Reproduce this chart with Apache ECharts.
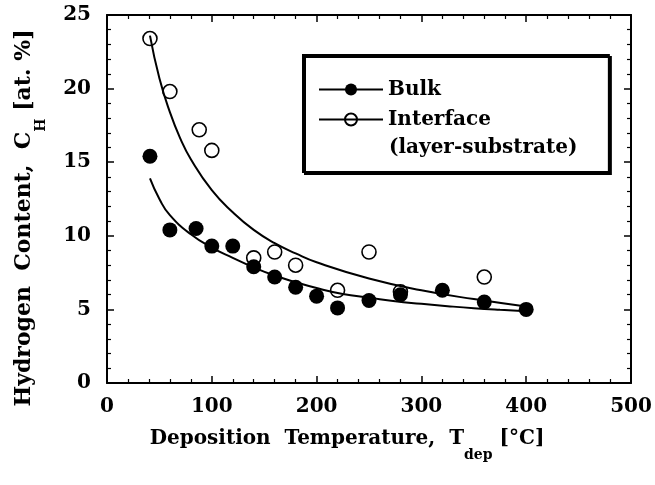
<!DOCTYPE html>
<html>
<head>
<meta charset="utf-8">
<script src="https://cdn.jsdelivr.net/npm/echarts@6/dist/echarts.min.js"></script>
<style>html,body{margin:0;padding:0;background:#fff}#c{width:655px;height:485px}</style>
</head>
<body>
<div id="c"></div>
<script>
// Measured points
const tempBulk = [41, 60, 85, 100, 120, 140, 160, 180, 200, 220, 250, 280, 320, 360, 400];
const hBulk    = [15.4, 10.4, 10.5, 9.3, 9.3, 7.9, 7.2, 6.5, 5.9, 5.1, 5.6, 6.0, 6.3, 5.5, 5.0];
const tempIface = [41, 60, 88, 100, 140, 160, 180, 220, 250, 280, 360];
const hIface    = [23.4, 19.8, 17.2, 15.8, 8.5, 8.9, 8.0, 6.3, 8.9, 6.2, 7.2];
// Fitted curves
const bulkFitT = [41, 50, 60, 80, 100, 120, 140, 160, 180, 200, 225, 250, 275, 300, 325, 350, 375, 400];
const bulkFitH = [13.9, 12.5, 11.4, 10.1, 9.2, 8.5, 7.85, 7.3, 6.85, 6.45, 6.05, 5.8, 5.55, 5.38, 5.22, 5.08, 4.97, 4.88];
const ifaceFitT = [41, 50, 60, 70, 80, 100, 120, 140, 160, 180, 200, 250, 300, 350, 400];
const ifaceFitH = [23.6, 20.7, 18.4, 16.6, 15.2, 13.1, 11.6, 10.4, 9.5, 8.8, 8.2, 7.1, 6.3, 5.7, 5.2];
// Axes
const xTicks = [0, 100, 200, 300, 400, 500];
const yTicks = [0, 5, 10, 15, 20, 25];
const seriesNames = ['Bulk', 'Interface'];
const legendExtra = '(layer-substrate)';

const zip = (a, b) => a.map((v, i) => [v, b[i]]);
const FONT = 'DejaVu Serif';

const tickStyle = {inside: true, length: 7, lineStyle: {color: '#000', width: 1.5}};
const minorStyle = {show: true, splitNumber: 5, length: 4, lineStyle: {color: '#000', width: 1.2}};
const lineSt = {show: true, onZero: false, lineStyle: {color: '#000', width: 2}};
const labelSt = {color: '#000', fontFamily: FONT, fontWeight: 'bold', fontSize: 20};

const chart = echarts.init(document.getElementById('c'), null, {renderer: 'canvas'});
chart.setOption({
  animation: false,
  backgroundColor: '#fff',
  grid: {left: 107, right: 24, top: 15, bottom: 102},
  xAxis: [
    {type: 'value', min: xTicks[0], max: xTicks[xTicks.length - 1], interval: 100,
     axisLine: lineSt, axisTick: tickStyle, minorTick: minorStyle, splitLine: {show: false},
     axisLabel: Object.assign({margin: 14}, labelSt)},
    {type: 'value', position: 'top', min: xTicks[0], max: xTicks[xTicks.length - 1], interval: 100,
     axisLine: lineSt, axisTick: tickStyle, minorTick: minorStyle, splitLine: {show: false},
     axisLabel: {show: false}}
  ],
  yAxis: [
    {type: 'value', min: yTicks[0], max: yTicks[yTicks.length - 1], interval: 5,
     axisLine: lineSt, axisTick: tickStyle, minorTick: minorStyle, splitLine: {show: false},
     axisLabel: Object.assign({margin: 16}, labelSt)},
    {type: 'value', position: 'right', min: yTicks[0], max: yTicks[yTicks.length - 1], interval: 5,
     axisLine: lineSt, axisTick: tickStyle, minorTick: minorStyle, splitLine: {show: false},
     axisLabel: {show: false}}
  ],
  legend: {
    data: seriesNames, orient: 'vertical', left: 303, top: 55,
    padding: [23, 118, 41, 15], itemWidth: 64, itemHeight: 15, itemGap: 7,
    selectedMode: false,
    textStyle: {fontFamily: FONT, fontWeight: 'bold', fontSize: 20, color: '#000', lineHeight: 23},
    borderColor: '#000', borderWidth: 2, borderRadius: 0, backgroundColor: '#fff',
    shadowColor: '#000', shadowOffsetX: 2, shadowOffsetY: 2, shadowBlur: 0,
    lineStyle: {color: '#000', width: 2, opacity: 1, type: 'solid'}
  },
  graphic: [
    {type: 'text', x: 389, y: 148, z: 100,
     style: {text: legendExtra, fill: '#000', font: 'bold 20px "DejaVu Serif"', align: 'left', verticalAlign: 'middle'}},
    {type: 'text', x: 347, y: 439, z: 100,
     style: {text: '{m|Deposition  Temperature,  T}{s|dep}{m| [°C]}', align: 'center', verticalAlign: 'middle', fill: '#000',
       rich: {m: {fontFamily: FONT, fontWeight: 'bold', fontSize: 20, lineHeight: 46, fill: '#000'},
              s: {fontFamily: FONT, fontWeight: 'bold', fontSize: 14, lineHeight: 15, verticalAlign: 'bottom', fill: '#000'}}}},
    {type: 'text', x: 24, y: 218, rotation: Math.PI / 2, z: 100,
     style: {text: '{m|Hydrogen  Content,  C}{s|H}{m| [at. %]}', align: 'center', verticalAlign: 'middle', fill: '#000',
       rich: {m: {fontFamily: FONT, fontWeight: 'bold', fontSize: 22, lineHeight: 48, fill: '#000'},
              s: {fontFamily: FONT, fontWeight: 'bold', fontSize: 14, lineHeight: 15, verticalAlign: 'bottom', fill: '#000'}}}}
  ],
  series: [
    {type: 'line', data: zip(bulkFitT, bulkFitH), symbol: 'none', smooth: true, silent: true,
     lineStyle: {color: '#000', width: 2}, z: 2},
    {type: 'line', data: zip(ifaceFitT, ifaceFitH), symbol: 'none', smooth: true, silent: true,
     lineStyle: {color: '#000', width: 2}, z: 2},
    {name: seriesNames[1], type: 'line', data: zip(tempIface, hIface), symbol: 'circle', symbolSize: 14,
     itemStyle: {color: 'rgba(255,255,255,0)', borderColor: '#000', borderWidth: 1.6},
     lineStyle: {opacity: 0}, z: 3},
    {name: seriesNames[0], type: 'line', data: zip(tempBulk, hBulk), symbol: 'circle', symbolSize: 15,
     itemStyle: {color: '#000', borderColor: '#000', borderWidth: 0},
     lineStyle: {opacity: 0}, z: 4}
  ]
});
</script>
</body>
</html>
